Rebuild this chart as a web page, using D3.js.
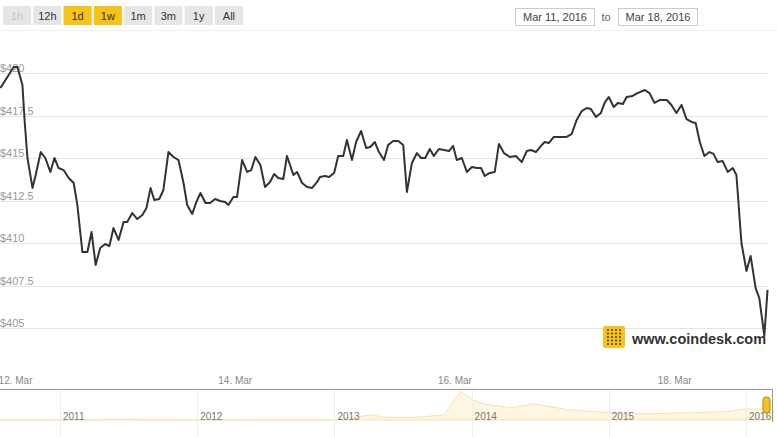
<!DOCTYPE html>
<html>
<head>
<meta charset="utf-8">
<script src="https://cdn.jsdelivr.net/npm/d3@7"></script>
<style>
  body { margin: 0; background: #fff; font-family: "Liberation Sans", Arial, sans-serif; }
  svg text { font-family: "Liberation Sans", Arial, sans-serif; }
</style>
</head>
<body>
<svg id="chart" width="777" height="437"></svg>
<script>
// hours after 12 Mar 2016 00:00
var hours = [-3.3, -0.4, 0.4, 1.5, 2.0, 2.6, 3.7, 4.4, 5.5, 6.5, 7.6, 8.5, 9.4, 10.5, 11.6, 12.7, 13.5, 14.6, 15.7, 16.6,
  17.5, 18.5, 19.6, 20.5, 21.4, 22.5, 23.6, 24.4, 25.5, 26.6, 27.7, 28.6, 29.5, 30.3, 31.4, 32.3, 33.4, 34.5, 35.6, 36.7,
  37.5, 38.6, 39.5, 40.4, 41.5, 42.5, 43.6, 44.7, 45.8, 46.5, 47.6, 48.4, 49.5, 50.6, 51.5, 52.4, 53.5, 54.5, 55.6, 56.5,
  57.4, 58.5, 59.3, 60.7, 61.5, 62.6, 63.7, 64.8, 65.9, 66.5, 67.6, 68.5, 69.6, 70.5, 71.6, 72.4, 73.5, 74.4, 75.5, 76.6,
  77.5, 78.5, 79.4, 80.5, 81.4, 82.5, 83.6, 84.7, 85.5, 86.6, 87.7, 88.6, 89.5, 90.5, 91.4, 92.5, 93.6, 94.7, 95.6, 96.4,
  97.5, 98.6, 99.7, 100.8, 101.7, 102.5, 103.6, 104.7, 105.6, 106.7, 108.0, 109.3, 110.6, 111.7, 112.6, 113.7, 114.8, 115.6, 116.5, 117.6,
  118.9, 120.4, 121.5, 122.6, 123.7, 124.8, 125.7, 126.8, 127.9, 128.7, 129.6, 130.7, 131.6, 132.7, 133.5, 134.8, 135.9, 137.5, 138.5, 139.6,
  140.7, 142.3, 143.3, 144.4, 145.5, 146.6, 147.7, 148.6, 149.5, 150.5, 151.6, 152.5, 153.4, 154.5, 155.6, 156.7, 157.5, 158.6, 159.7, 160.6,
  161.7, 162.5, 163.6, 164.3]

var prices = [419.12, 420.35, 420.35, 419.29, 417.12, 415.0, 413.24, 414.0, 415.35, 415.0, 414.18, 415.0, 414.41, 414.29, 413.82, 413.53, 412.24, 409.47, 409.47, 410.65,
  408.71, 409.71, 409.94, 409.82, 410.88, 410.18, 411.24, 411.24, 411.76, 411.41, 411.65, 412.06, 413.24, 412.53, 412.59, 413.12, 415.35, 415.06, 414.88, 413.53,
  412.24, 411.71, 412.41, 412.94, 412.35, 412.35, 412.59, 412.47, 412.41, 412.24, 412.71, 412.71, 414.88, 414.18, 414.29, 415.06, 414.59, 413.29, 413.59, 414.06,
  413.82, 413.76, 415.12, 414.0, 414.18, 413.53, 413.29, 413.24, 413.59, 413.88, 413.94, 413.88, 414.12, 415.12, 415.12, 416.06, 414.88, 415.94, 416.59, 415.59,
  415.65, 415.94, 415.35, 414.88, 415.76, 416.0, 416.0, 415.76, 413.0, 414.71, 415.29, 415.0, 415.0, 415.53, 415.12, 415.53, 415.47, 415.41, 415.71, 414.88,
  415.0, 414.18, 414.47, 414.41, 414.41, 413.94, 414.12, 414.18, 415.82, 415.29, 415.06, 415.12, 414.76, 415.41, 415.47, 415.35, 415.71, 415.94, 415.88, 416.24,
  416.24, 416.24, 416.41, 417.24, 417.76, 417.94, 417.88, 417.41, 417.65, 418.24, 418.59, 418.0, 418.24, 418.18, 418.59, 418.65, 418.82, 419.0, 418.82, 418.24,
  418.41, 418.41, 418.12, 417.65, 418.12, 417.29, 417.12, 417.06, 415.94, 415.12, 415.35, 415.24, 414.76, 414.82, 414.18, 414.41, 414.0, 410.0, 408.35, 409.24,
  407.35, 406.76, 404.53, 407.24]

var yTicks = [405, 407.5, 410, 412.5, 415, 417.5, 420]
var dayTicks = [0, 48, 96, 144]
var dayLabels = ['12. Mar', '14. Mar', '16. Mar', '18. Mar']
var buttons = ['1h', '12h', '1d', '1w', '1m', '3m', '1y', 'All']
var activeButtons = ['1d', '1w']
var dateFrom = 'Mar 11, 2016'
var dateTo = 'Mar 18, 2016'

// navigator: long-run history
var navYears = [2010.0, 2011.0, 2011.45, 2011.9, 2012.5, 2013.0, 2013.28, 2013.35, 2013.6, 2013.8, 2013.92, 2014.0, 2014.1, 2014.3, 2014.45, 2014.7, 2015.0, 2015.3, 2015.6, 2015.85, 2016.0, 2016.2]
var navPrices = [0.1, 0.3, 18, 3, 7, 13, 200, 110, 100, 200, 1100, 800, 600, 470, 620, 400, 280, 240, 280, 320, 430, 410]
var yearTicks = [2011, 2012, 2013, 2014, 2015, 2016]

var svg = d3.select('#chart')
  , n = Math.min(hours.length, prices.length)
  , data = d3.range(n).map(function (i) { return { h: hours[i], p: prices[i] } })

var x = d3.scaleLinear().domain([-3.4, 164.4]).range([0, 768])
  , y = d3.scaleLinear().domain([405, 420]).range([328, 73])

// range buttons
var bx = d3.scaleBand().domain(buttons).range([3, 243]).paddingInner(0.07)
var btn = svg.append('g').selectAll('g').data(buttons).join('g')
  .attr('transform', function (d) { return 'translate(' + bx(d) + ',6)' })
btn.append('rect')
  .attr('width', bx.bandwidth()).attr('height', 19)
  .attr('fill', function (d) { return activeButtons.indexOf(d) >= 0 ? '#f7c21a' : '#e6e6e6' })
btn.append('text')
  .attr('x', bx.bandwidth() / 2).attr('y', 14)
  .attr('text-anchor', 'middle').attr('font-size', 11)
  .attr('fill', function (d) { return d === '1h' ? '#c8c8c8' : '#333' })
  .text(function (d) { return d })

// date boxes
;[[515, dateFrom], [618, dateTo]].forEach(function (b) {
  svg.append('rect').attr('x', b[0] + 0.5).attr('y', 8.5).attr('width', 79).attr('height', 17)
    .attr('fill', '#fff').attr('stroke', '#ccc')
  svg.append('text').attr('x', b[0] + 40).attr('y', 21).attr('text-anchor', 'middle')
    .attr('font-size', 11).attr('fill', '#444').text(b[1])
})
svg.append('text').attr('x', 606).attr('y', 21).attr('text-anchor', 'middle')
  .attr('font-size', 11).attr('fill', '#666').text('to')
svg.append('line').attr('x1', 0).attr('x2', 777).attr('y1', 30.5).attr('y2', 30.5)
  .attr('stroke', '#f0f0f0')

// grid + y labels
var grid = svg.append('g')
grid.selectAll('line').data(yTicks).join('line')
  .attr('x1', 0).attr('x2', 768)
  .attr('y1', function (d) { return Math.round(y(d)) + 0.5 })
  .attr('y2', function (d) { return Math.round(y(d)) + 0.5 })
  .attr('stroke', '#e6e6e6')
grid.selectAll('text').data(yTicks).join('text')
  .attr('x', 0).attr('y', function (d) { return y(d) - 1 })
  .attr('font-size', 11).attr('fill', '#999')
  .text(function (d) { return '$' + d })

// price line
svg.append('path').datum(data)
  .attr('fill', 'none').attr('stroke', '#333').attr('stroke-width', 2)
  .attr('stroke-linejoin', 'round')
  .attr('d', d3.line().x(function (d) { return x(d.h) }).y(function (d) { return y(d.p) }))

// x labels
svg.append('g').selectAll('text').data(dayTicks).join('text')
  .attr('x', function (d) { return x(d) }).attr('y', 384)
  .attr('text-anchor', 'middle').attr('font-size', 10).attr('fill', '#888')
  .text(function (d, i) { return dayLabels[i] })

// logo
var logo = svg.append('g').attr('transform', 'translate(603,326)')
logo.append('rect').attr('width', 22).attr('height', 22).attr('rx', 2).attr('fill', '#f7c21a')
logo.selectAll('circle').data(d3.range(20)).join('circle')
  .attr('cx', function (d) { return 5 + (d % 4) * 4 })
  .attr('cy', function (d) { return 4 + Math.floor(d / 4) * 3.5 })
  .attr('r', 1).attr('fill', '#4a3a00')
svg.append('text').attr('x', 632).attr('y', 344)
  .attr('font-size', 14.5).attr('font-weight', 'bold').attr('fill', '#333')
  .text('www.coindesk.com')

// navigator
var nx = d3.scaleLinear().domain([2011, 2016]).range([60, 746])
  , ny = d3.scaleLinear().domain([0, 1150]).range([420, 390])
var nav = svg.append('g')
nav.append('path').datum(d3.range(navYears.length))
  .attr('fill', '#fdf6e0').attr('stroke', '#f5e4b0').attr('stroke-width', 1)
  .attr('d', d3.area()
    .x(function (i) { return nx(navYears[i]) })
    .y0(420).y1(function (i) { return ny(navPrices[i]) }))
nav.selectAll('line.g').data(yearTicks).join('line').attr('class', 'g')
  .attr('x1', function (d) { return Math.round(nx(d)) + 0.5 })
  .attr('x2', function (d) { return Math.round(nx(d)) + 0.5 })
  .attr('y1', 390).attr('y2', 437).attr('stroke', '#eee')
nav.selectAll('text').data(yearTicks).join('text')
  .attr('x', function (d) { return nx(d) + 3 }).attr('y', 420)
  .attr('font-size', 10).attr('fill', '#777')
  .text(function (d) { return d })
nav.append('line').attr('x1', 0).attr('x2', 773).attr('y1', 389.5).attr('y2', 389.5)
  .attr('stroke', '#999')
nav.append('line').attr('x1', 772.5).attr('x2', 772.5).attr('y1', 389).attr('y2', 422)
  .attr('stroke', '#999')
nav.append('rect').attr('x', 763).attr('y', 397).attr('width', 7).attr('height', 16)
  .attr('rx', 3).attr('fill', '#f7c21a').attr('stroke', '#a88a20')
</script>
</body>
</html>
